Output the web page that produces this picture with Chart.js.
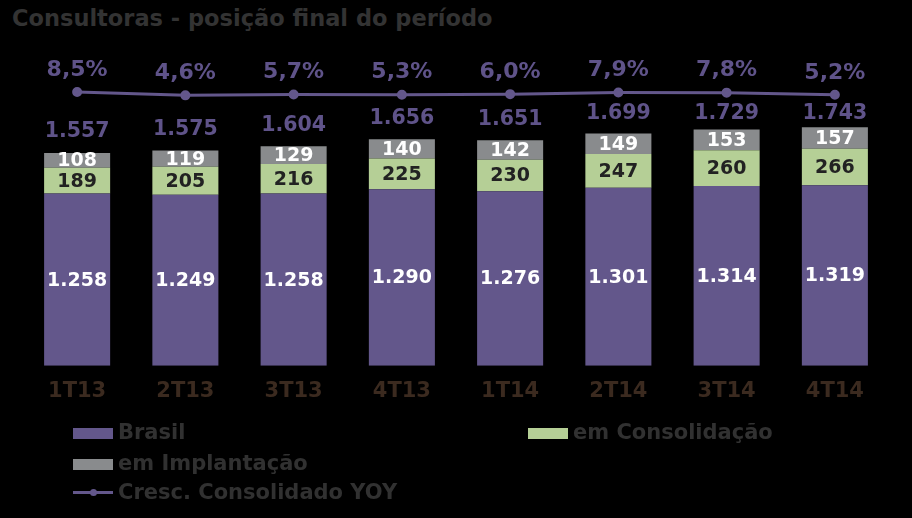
<!DOCTYPE html>
<html>
<head>
<meta charset="utf-8">
<script src="https://cdn.jsdelivr.net/npm/chart.js@4.4.1/dist/chart.umd.min.js"></script>
<style>
  html, body { margin: 0; padding: 0; background: #000; }
  #wrap { position: relative; width: 912px; height: 518px; background: #000; overflow: hidden; }
  #title { position: absolute; left: 12px; top: 5px; font: bold 22.5px "DejaVu Sans", Verdana, sans-serif; line-height: 26px; color: #333333; white-space: nowrap; }
  canvas { position: absolute; left: 0; top: 0; }
  .lg { position: absolute; font: bold 21px "DejaVu Sans", Verdana, sans-serif; color: #313131; white-space: nowrap; line-height: 20px; height: 20px; }
  .lg .sw { position: absolute; left: 0; top: 6px; width: 40px; height: 11px; }
  .lg .ln { position: absolute; left: 0; top: 9px; width: 40px; height: 3px; }
  .lg .dot { position: absolute; left: 17px; top: 7px; width: 7px; height: 7px; border-radius: 50%; }
  .lg .tx { position: absolute; left: 45px; top: 0; }
</style>
</head>
<body>
<div id="wrap">
  <div id="title">Consultoras - posição final do período</div>
  <canvas id="c" width="912" height="518"></canvas>
  <div id="legend"></div>
</div>
<script>
const categories = ["1T13", "2T13", "3T13", "4T13", "1T14", "2T14", "3T14", "4T14"];
const brasil = [1258, 1249, 1258, 1290, 1276, 1301, 1314, 1319];
const emConsolidacao = [189, 205, 216, 225, 230, 247, 260, 266];
const emImplantacao = [108, 119, 129, 140, 142, 149, 153, 157];
const totals = [1557, 1575, 1604, 1656, 1651, 1699, 1729, 1743];
const crescYoY = [8.5, 4.6, 5.7, 5.3, 6.0, 7.9, 7.8, 5.2];

const PURPLE = "#63578b";
const GREEN = "#b5cf96";
const GRAY = "#898b8d";
const LABEL_PURPLE = "#5f5389";

function fmtThousands(v) {
  const s = String(Math.round(v));
  return s.replace(/\B(?=(\d{3})+(?!\d))/g, ".");
}
function fmtPct(v) { return v.toFixed(1).replace(".", ",") + "%"; }

const labelPlugin = {
  id: "labels",
  afterDatasetsDraw(chart) {
    const ctx = chart.ctx;
    ctx.save();
    ctx.textAlign = "center";
    ctx.textBaseline = "middle";
    const fontVal = 'bold 19px "DejaVu Sans", Verdana, sans-serif';
    const segColors = ["#ffffff", "#222222", "#ffffff"];
    [0, 1, 2].forEach(di => {
      const meta = chart.getDatasetMeta(di);
      const ds = chart.data.datasets[di];
      meta.data.forEach((el, i) => {
        const yc = (el.y + el.base) / 2;
        ctx.font = fontVal;
        ctx.fillStyle = segColors[di];
        ctx.fillText(fmtThousands(ds.data[i]), el.x, yc + 1);
      });
    });
    // totals above the stacks
    const topMeta = chart.getDatasetMeta(2);
    topMeta.data.forEach((el, i) => {
      const y = Math.max(el.y - 21, 114);
      ctx.font = 'bold 20.5px "DejaVu Sans", Verdana, sans-serif';
      ctx.fillStyle = LABEL_PURPLE;
      ctx.fillText(fmtThousands(totals[i]), el.x, y);
    });
    // percentages above line points
    const lineMeta = chart.getDatasetMeta(3);
    lineMeta.data.forEach((el, i) => {
      ctx.font = 'bold 22px "DejaVu Sans", Verdana, sans-serif';
      ctx.fillStyle = LABEL_PURPLE;
      ctx.fillText(fmtPct(crescYoY[i]), el.x, el.y - 22);
    });
    ctx.restore();
  }
};

const chart = new Chart(document.getElementById("c"), {
  data: {
    labels: categories,
    datasets: [
      { type: "bar", label: "Brasil", data: brasil, backgroundColor: PURPLE, stack: "s", yAxisID: "y", order: 2 },
      { type: "bar", label: "em Consolidação", data: emConsolidacao, backgroundColor: GREEN, stack: "s", yAxisID: "y", order: 2 },
      { type: "bar", label: "em Implantação", data: emImplantacao, backgroundColor: GRAY, stack: "s", yAxisID: "y", order: 2 },
      { type: "line", label: "Cresc. Consolidado YOY", data: crescYoY, borderColor: PURPLE, backgroundColor: PURPLE,
        borderWidth: 3, pointRadius: 3.5, pointHoverRadius: 3.5, tension: 0, yAxisID: "y1", order: 0 }
    ]
  },
  options: {
    responsive: false,
    animation: false,
    events: [],
    layout: { padding: { top: 40, left: 23, right: 23, bottom: 101 } },
    datasets: { bar: { categoryPercentage: 1.0, barPercentage: 0.61 } },
    plugins: { legend: { display: false }, tooltip: { enabled: false }, title: { display: false } },
    scales: {
      x: {
        stacked: true,
        grid: { display: false, drawTicks: false, tickLength: 0 },
        border: { display: false },
        ticks: { color: "#3b2a1f", padding: 13, font: { family: '"DejaVu Sans", Verdana, sans-serif', size: 21, weight: "bold" } }
      },
      y: { stacked: true, display: false, min: 0, max: 2380 },
      y1: { display: false, min: -315, max: 70, position: "right", grid: { display: false } }
    }
  },
  plugins: [labelPlugin]
});

// HTML legend built from dataset definitions
const legendPos = [
  { left: 73, top: 422 },   // Brasil
  { left: 528, top: 422 },  // em Consolidação
  { left: 73, top: 453 },   // em Implantação
  { left: 73, top: 482 }    // Cresc.
];
const lg = document.getElementById("legend");
chart.data.datasets.forEach((ds, i) => {
  const d = document.createElement("div");
  d.className = "lg";
  d.style.left = legendPos[i].left + "px";
  d.style.top = legendPos[i].top + "px";
  if (ds.type === "line") {
    d.innerHTML = '<span class="ln" style="background:' + ds.borderColor + '"></span><span class="dot" style="background:' + ds.borderColor + '"></span>';
  } else {
    d.innerHTML = '<span class="sw" style="background:' + ds.backgroundColor + '"></span>';
  }
  const t = document.createElement("span");
  t.className = "tx";
  t.textContent = ds.label;
  d.appendChild(t);
  lg.appendChild(d);
});
</script>
</body>
</html>
